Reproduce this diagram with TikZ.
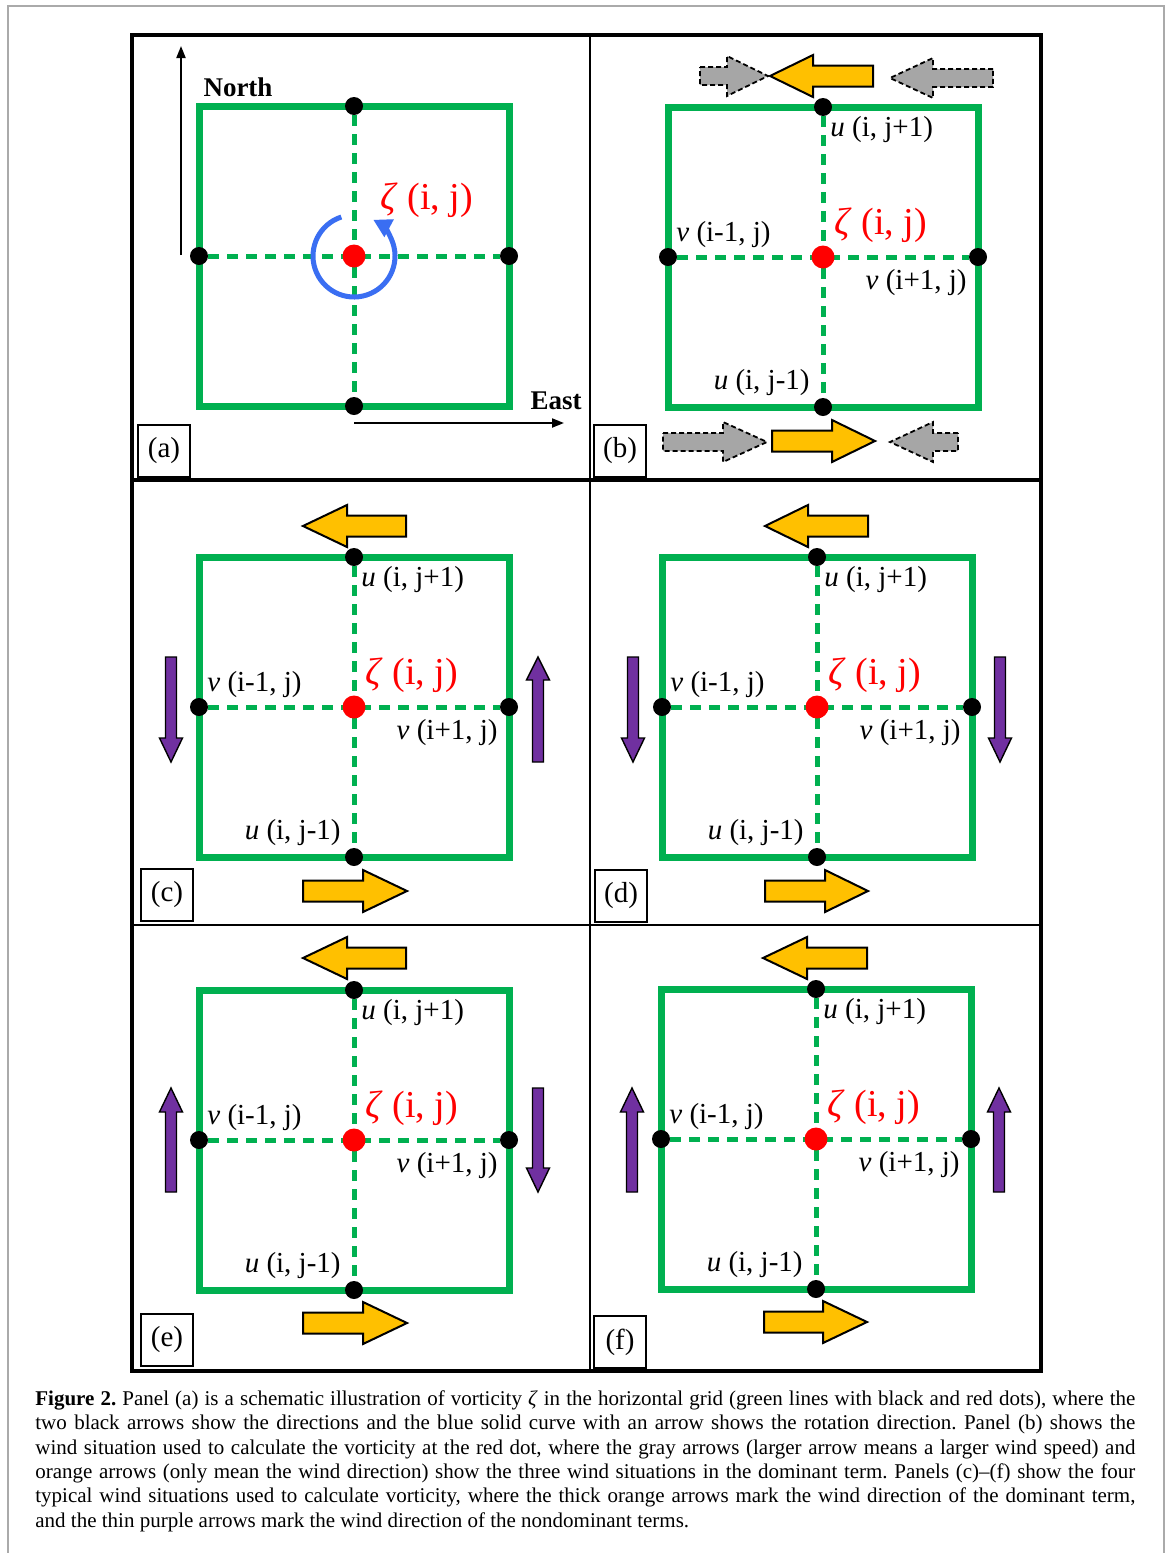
\documentclass[tikz,border=0pt]{standalone}
\usepackage{fontspec}
\setmainfont{Liberation Serif}
\usetikzlibrary{arrows.meta}
\definecolor{gridgreen}{HTML}{00B050}
\definecolor{windorange}{HTML}{FFC000}
\definecolor{windpurple}{HTML}{7030A0}
\definecolor{windgray}{HTML}{A6A6A6}
\definecolor{rotblue}{HTML}{3A6EF2}
\definecolor{zetared}{HTML}{FF0000}
\definecolor{pagegray}{HTML}{AAAAAA}
\tikzset{
 greenbox/.style={draw=gridgreen, line width=3.5pt},
 greendash/.style={draw=gridgreen, line width=2.5pt, dash pattern=on 5.5pt off 4pt},
 blackdot/.style={circle, fill=black, inner sep=0pt, minimum size=9pt},
 reddot/.style={circle, fill=zetared, inner sep=0pt, minimum size=11.5pt},
 ulabel/.style={font=\fontsize{14.5}{16}\selectfont, inner sep=0pt},
 zlabel/.style={font=\fontsize{19}{21}\selectfont, text=zetared, inner sep=0pt},
 dirlabel/.style={font=\fontsize{13.5}{15}\selectfont\bfseries, inner sep=0pt},
 orangearrow/.style={fill=windorange, draw=black, line width=1pt},
 grayarrow/.style={fill=windgray, draw=black, line width=0.9pt, dash pattern=on 2.5pt off 1.5pt},
 purplearrow/.style={fill=windpurple, draw=black, line width=0.7pt},
 panelbox/.style={draw=black, line width=0.8pt, minimum width=26pt, minimum height=26pt, inner sep=0pt, font=\fontsize{14.5}{16}\selectfont},
 frameline/.style={draw=black, line width=1.6pt},
 thinframe/.style={draw=black, line width=0.6pt},
}
% horizontal block arrow: style, xtail, xbase, xtip, y, bodyhalf, headhalf
\newcommand\windH[7]{%
 \draw[#1] (#2,{#5-#6}) -- (#3,{#5-#6}) -- (#3,{#5-#7}) -- (#4,#5) -- (#3,{#5+#7}) -- (#3,{#5+#6}) -- (#2,{#5+#6}) -- cycle;}
% vertical block arrow: style, x, ytail, ybase, ytip, bodyhalf, headhalf
\newcommand\windV[7]{%
 \draw[#1] ({#2-#6},#3) -- ({#2-#6},#4) -- ({#2-#7},#4) -- (#2,#5) -- ({#2+#7},#4) -- ({#2+#6},#4) -- ({#2+#6},#3) -- cycle;}
% grid cell: prefix, cx, cy
\newcommand\gridcell[3]{%
 \draw[greenbox] ({#2-155},{#3-150}) rectangle ({#2+155},{#3+150});
 \node[blackdot] (#1N) at (#2,{#3-150}) {};
 \node[blackdot] (#1S) at (#2,{#3+150}) {};
 \node[blackdot] (#1W) at ({#2-155},#3) {};
 \node[blackdot] (#1E) at ({#2+155},#3) {};
 \coordinate (#1C) at (#2,#3);
 \draw[greendash] (#1W) -- (#1E);
 \draw[greendash] (#1N) -- (#1S);
 \node[reddot] (#1R) at (#1C) {};}
\newcommand\gridlabels[1]{%
 \node[ulabel, anchor=west] (#1un) at ([xshift=3.5pt, yshift=-11.5pt]#1N.center) {\textit{u} (i, j+1)};
 \node[ulabel, anchor=west] (#1vw) at ([xshift=4pt, yshift=11pt]#1W.center) {\textit{v} (i-1, j)};
 \node[zlabel, anchor=west] (#1z) at ([xshift=5.5pt, yshift=16pt]#1C) {\textit{ζ} (i, j)};
 \node[ulabel, anchor=east] (#1ve) at ([xshift=-5.5pt, yshift=-13pt]#1E.center) {\textit{v} (i+1, j)};
 \node[ulabel, anchor=east] (#1us) at ([xshift=-6.5pt, yshift=12pt]#1S.center) {\textit{u} (i, j-1)};}
\begin{document}
\begin{tikzpicture}[x=0.5pt, y=-0.5pt]
\useasboundingbox (0,0) rectangle (1170,1553);
\fill[white] (0,0) rectangle (1170,1553);
\draw[pagegray, line width=0.6pt] (8,1553) -- (8,6) -- (1164,6) -- (1164,1553);
% panel frames
\draw[thinframe] (590,35) -- (590,1371);
\draw[thinframe] (132,925) -- (1041,925);
\draw[frameline] (132,480) -- (1041,480);
\draw[frameline] (132,35) rectangle (1041,1371);
% ---------- panel (a)
\gridcell{a}{354}{256}
\coordinate (northtail) at (181,255);
\coordinate (northtip) at (181,46);
\coordinate (easttail) at (354,423);
\coordinate (easttip) at (564,423);
\draw[line width=1pt, -{Triangle[length=6pt,width=4.5pt]}] (northtail) -- (northtip);
\draw[line width=1pt, -{Triangle[length=6pt,width=4.5pt]}] (easttail) -- (easttip);
\node[dirlabel] (north) at (238,87) {North};
\node[dirlabel] (east) at (556,401) {East};
\draw[rotblue, line width=2.5pt, -{Triangle[length=9pt,width=9.5pt]}] (aC) ++(-108:41) arc[start angle=-108, end angle=-422, radius=41];
\node[zlabel, anchor=west] (az) at ([xshift=13pt, yshift=28pt]aC) {\textit{ζ} (i, j)};
\node[panelbox] (pa) at (164,451) {(a)};
% ---------- panel (b)
\gridcell{b}{823}{257}
\gridlabels{b}
\windH{grayarrow}{700}{727}{768}{76}{9}{20}
\windH{orangearrow}{873}{813}{770}{76}{10.5}{21}
\windH{grayarrow}{993}{933}{890}{78}{9}{20}
\windH{grayarrow}{663}{723}{767}{442}{9}{20}
\windH{orangearrow}{772}{832}{875}{441}{10.5}{21}
\windH{grayarrow}{958}{933}{890}{442}{9}{20}
\node[panelbox] (pb) at (620,451) {(b)};
% ---------- panel (c)
\gridcell{c}{354}{707}
\gridlabels{c}
\windH{orangearrow}{406}{347}{303}{526}{10.5}{21}
\windH{orangearrow}{303}{363}{407}{891}{10.5}{21}
\windV{purplearrow}{171}{657}{738}{762}{5.5}{11.5}
\windV{purplearrow}{538}{762}{680}{657}{5.5}{11.5}
\node[panelbox] (pc) at (167,895) {(c)};
% ---------- panel (d)
\gridcell{d}{817}{707}
\gridlabels{d}
\windH{orangearrow}{868}{808}{765}{526}{10.5}{21}
\windH{orangearrow}{765}{825}{868}{891}{10.5}{21}
\windV{purplearrow}{633}{657}{738}{762}{5.5}{11.5}
\windV{purplearrow}{1000}{657}{738}{762}{5.5}{11.5}
\node[panelbox] (pd) at (621,896) {(d)};
% ---------- panel (e)
\gridcell{e}{354}{1140}
\gridlabels{e}
\windH{orangearrow}{406}{347}{303}{958}{10.5}{21}
\windH{orangearrow}{303}{363}{407}{1323}{10.5}{21}
\windV{purplearrow}{171}{1192}{1112}{1088}{5.5}{11.5}
\windV{purplearrow}{538}{1088}{1168}{1192}{5.5}{11.5}
\node[panelbox] (pe) at (167,1340) {(e)};
% ---------- panel (f)
\gridcell{f}{816}{1139}
\gridlabels{f}
\windH{orangearrow}{867}{807}{763}{958}{10.5}{21}
\windH{orangearrow}{764}{823}{867}{1322}{10.5}{21}
\windV{purplearrow}{632}{1192}{1112}{1088}{5.5}{11.5}
\windV{purplearrow}{999}{1192}{1112}{1088}{5.5}{11.5}
\node[panelbox] (pf) at (620,1342) {(f)};
% ---------- caption
\node[anchor=north west, inner sep=0pt, text width=550pt, align=justify, font=\fontsize{10.5}{12.2}\selectfont\frenchspacing] (caption) at (35,1390) {\textbf{Figure 2.} Panel (a) is a schematic illustration of vorticity \textit{ζ} in the horizontal grid (green lines with black and red dots), where the\linebreak two black arrows show the directions and the blue solid curve with an arrow shows the rotation direction. Panel (b) shows the\linebreak wind situation used to calculate the vorticity at the red dot, where the gray arrows (larger arrow means a larger wind speed) and\linebreak orange arrows (only mean the wind direction) show the three wind situations in the dominant term. Panels (c)--(f) show the four\linebreak typical wind situations used to calculate vorticity, where the thick orange arrows mark the wind direction of the dominant term,\linebreak and the thin purple arrows mark the wind direction of the nondominant terms.};
\end{tikzpicture}
\end{document}
